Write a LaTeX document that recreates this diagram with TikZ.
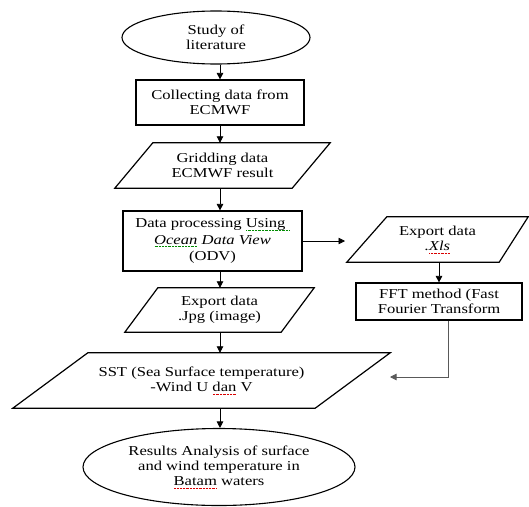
\documentclass[tikz,border=0pt]{standalone}
\usepackage{fontspec}
\setmainfont{Liberation Serif}[FakeStretch=1.22]
\usetikzlibrary{shapes.geometric,arrows.meta}
\newsavebox\sqbox
\newcommand\sqmark[2]{\sbox\sqbox{#2}\leavevmode\rlap{\hbox to\wd\sqbox{\color{#1}\xleaders\hbox to 1.4pt{\hss\rule[-2.6pt]{0.7pt}{0.5pt}\hss}\hfill}}\usebox\sqbox}
\newcommand\gsq[1]{\sqmark{green!55!black}{#1}}
\newcommand\rsq[1]{\sqmark{red!85!black}{#1}}
\begin{document}
\begin{tikzpicture}[x=1pt,y=-1pt,
 txt/.style={font=\fontsize{13.6}{15}\selectfont, align=center, inner sep=0pt},
 boxnode/.style={txt, draw, line width=1.2pt, rectangle},
 ovalnode/.style={txt, draw, line width=1.1pt, ellipse},
 pgram/.style={txt, rectangle},
 edge/.style={line width=1.2pt, line join=miter},
 arr/.style={line width=0.8pt, -{Triangle[length=6.5pt,width=6.5pt]}},
 link/.style={line width=0.8pt, draw=black!65, -{Triangle[length=6.5pt,width=6.5pt]}}]
\fill[white] (0,0) rectangle (529,506);
\useasboundingbox (0,0) rectangle (529,506);

\coordinate (axis) at (220,0);

\node[ovalnode, minimum width=188pt, minimum height=53pt] (study) at (216,37.5) {Study of\\literature};
\node[boxnode, minimum width=168pt, minimum height=45pt] (collect) at (220,102.5) {Collecting data from\\ECMWF};

\node[pgram, minimum width=215pt, minimum height=45pt] (grid) at (222.5,165.5) {Gridding data\\ECMWF result};
\draw[edge] ([xshift=38pt]grid.north west) -- (grid.north east) -- ([xshift=-38pt]grid.south east) -- (grid.south west) -- cycle;

\node[boxnode, minimum width=179pt, minimum height=60pt, font=\fontsize{13.6}{16.5}\selectfont] (odv) at (212.5,241) {Data processing \gsq{Using\ }\\\textit{\gsq{Ocean} Data View}\\(ODV)};

\node[pgram, minimum width=189pt, minimum height=44pt] (jpg) at (219.5,310) {Export data\\.Jpg (image)};
\draw[edge] ([xshift=33pt]jpg.north west) -- (jpg.north east) -- ([xshift=-33pt]jpg.south east) -- (jpg.south west) -- cycle;

\node[pgram, minimum width=377pt, minimum height=55pt] (sst) at (201.5,380.5) {SST (Sea Surface temperature)\\-Wind U \rsq{dan} V};
\draw[edge] ([xshift=75pt]sst.north west) -- (sst.north east) -- ([xshift=-75pt]sst.south east) -- (sst.south west) -- cycle;

\node[ovalnode, minimum width=272pt, minimum height=77pt] (result) at (219,467) {Results Analysis of surface\\and wind temperature in\\\rsq{Batam} waters};

\node[pgram, minimum width=181pt, minimum height=45pt] (xls) at (437.5,239.5) {Export data\\\textit{.\rsq{Xls}}};
\draw[edge] ([xshift=40pt]xls.north west) -- (xls.north east) -- ([xshift=-29pt]xls.south east) -- (xls.south west) -- cycle;

\node[boxnode, minimum width=166pt, minimum height=37pt] (fft) at (439,301.5) {FFT method (Fast\\Fourier Transform};

\draw[arr] (study.south -| axis) -- (collect.north -| axis);
\draw[arr] (collect.south -| axis) -- (grid.north -| axis);
\draw[arr] (grid.south -| axis) -- (odv.north -| axis);
\draw[arr] (odv.south -| axis) -- (jpg.north -| axis);
\draw[arr] (jpg.south -| axis) -- (sst.north -| axis);
\draw[arr] (sst.south -| axis) -- (result.north -| axis);

\coordinate (xlsin) at (345,243);
\draw[arr] (odv.east) -- (odv.east -| xlsin);
\draw[arr] (fft.north |- xls.south) -- (fft.north);
\coordinate (fftout) at (448,0);
\coordinate (sstin) at (390,377);
\draw[link] (fft.south -| fftout) |- (sstin);
\end{tikzpicture}
\end{document}
